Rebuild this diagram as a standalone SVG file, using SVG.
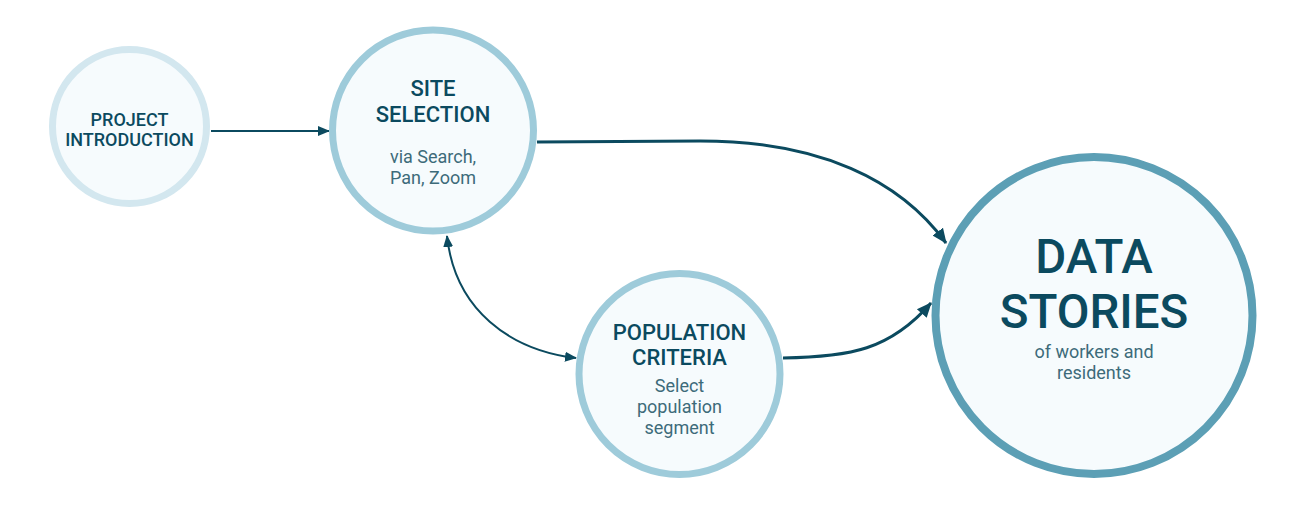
<svg xmlns="http://www.w3.org/2000/svg" width="1308" height="505" viewBox="0 0 1308 505">
<style>
.node{fill:#f6fbfd}
.n1{stroke:#d3e7ef;stroke-width:7}
.n2{stroke:#9ecbda;stroke-width:7}
.n3{stroke:#5c9fb5;stroke-width:8}
.t{font-family:Roboto,"Liberation Sans",sans-serif;font-weight:500;fill:#0b4a5f;text-anchor:middle}
.s{font-family:Roboto,"Liberation Sans",sans-serif;font-weight:400;fill:#3d6b7a;text-anchor:middle;font-size:18px}
.c{fill:none;stroke:#0b4a5f}
</style>
<defs>
<marker id="ah" markerUnits="userSpaceOnUse" markerWidth="15" markerHeight="15" viewBox="0 0 15 15" refX="14" refY="7.5" orient="auto-start-reverse">
<path d="M0,1 L15,7.5 L0,14 z" fill="#0b4a5f"/>
</marker>
<marker id="ahs" markerUnits="userSpaceOnUse" markerWidth="12" markerHeight="12" viewBox="0 0 12 12" refX="11" refY="6" orient="auto-start-reverse">
<path d="M0,1 L12,6 L0,11 z" fill="#0b4a5f"/>
</marker>
</defs>
<g id="connectors">
<path class="c" stroke-width="2" d="M211,131 L329,131" marker-end="url(#ahs)"/>
<path class="c" stroke-width="3" d="M537,142 L700,141 C820,141 900,180 946,243" marker-end="url(#ah)"/>
<path class="c" stroke-width="3" d="M783,358 C850,357 890,350 931,303" marker-end="url(#ah)"/>
<path class="c" stroke-width="2" d="M447,236 C455,310 510,350 576,358" marker-start="url(#ahs)" marker-end="url(#ahs)"/>
</g>
<g id="project-introduction">
<circle class="node n1" cx="129.5" cy="126.5" r="77"/>
<text class="t" font-size="18" x="129.5" y="126">PROJECT</text>
<text class="t" font-size="18" x="129.5" y="146">INTRODUCTION</text>
</g>
<g id="site-selection">
<circle class="node n2" cx="433" cy="130.5" r="100.5"/>
<text class="t" font-size="22" x="433" y="96">SITE</text>
<text class="t" font-size="22" x="433" y="122">SELECTION</text>
<text class="s" x="433" y="163">via Search,</text>
<text class="s" x="433" y="184">Pan, Zoom</text>
</g>
<g id="population-criteria">
<circle class="node n2" cx="679.5" cy="374" r="100.5"/>
<text class="t" font-size="22" x="679.5" y="340">POPULATION</text>
<text class="t" font-size="22" x="679.5" y="365">CRITERIA</text>
<text class="s" x="679.5" y="392">Select</text>
<text class="s" x="679.5" y="413">population</text>
<text class="s" x="679.5" y="434">segment</text>
</g>
<g id="data-stories">
<circle class="node n3" cx="1094" cy="315.5" r="158.5"/>
<text class="t" font-size="47.5" x="1094" y="273">DATA</text>
<text class="t" font-size="47.5" x="1094" y="328">STORIES</text>
<text class="s" x="1094" y="358">of workers and</text>
<text class="s" x="1094" y="379">residents</text>
</g>
</svg>
